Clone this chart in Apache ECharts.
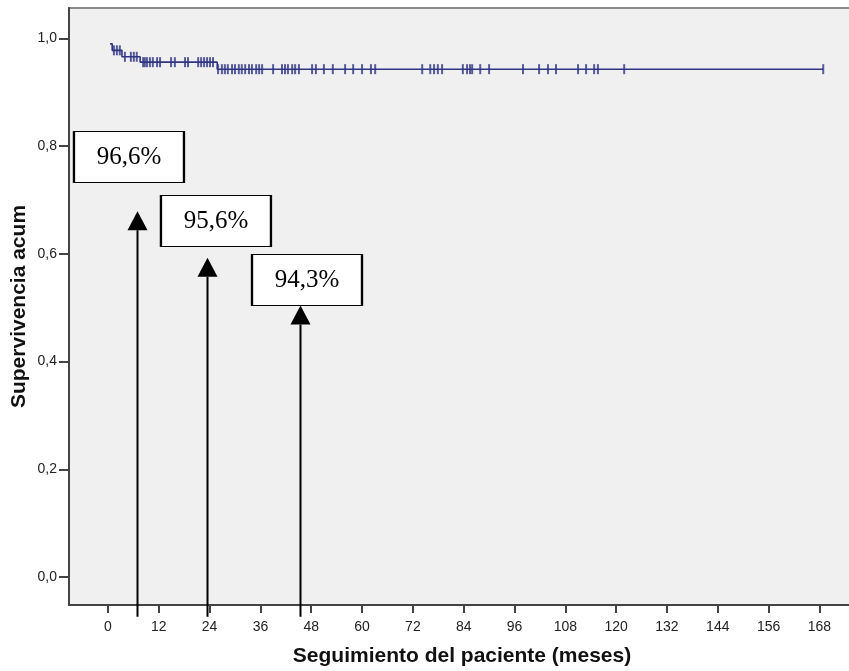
<!DOCTYPE html>
<html>
<head>
<meta charset="utf-8">
<script src="https://cdn.jsdelivr.net/npm/echarts@6/dist/echarts.min.js"></script>
<style>
  html, body { margin: 0; padding: 0; background: #ffffff; }
  #chart { width: 849px; height: 671px; }
</style>
</head>
<body>
<div id="chart"></div>
<script>
// Kaplan-Meier steps (months, cumulative survival)
var eventMonths = [0.5, 1.0, 3.3, 7.6, 25.8];
var eventSurvival = [0.990, 0.978, 0.966, 0.956, 0.943];
var lastFollowUp = 168.9;

// censored patients (months)
var censoredMonths = [
  1.4, 2.1, 2.8,
  4.0, 5.4, 6.1, 6.8,
  8.3, 8.7, 9.2, 9.9, 10.6, 11.6, 12.3, 14.9, 15.8, 18.2, 18.9,
  21.3, 22.0, 22.7, 23.4, 24.1, 24.8,
  26.0, 26.9, 27.6, 28.3, 29.3, 30.0, 30.9, 31.6, 32.4, 33.3, 34.0, 35.0, 35.7, 36.4,
  39.0, 41.1, 41.8, 42.5, 43.5, 44.2, 45.1, 48.2, 49.1, 51.0, 53.1, 56.0, 57.9, 60.0,
  62.1, 63.1, 74.2, 76.1, 77.0, 77.9, 78.9, 83.8, 84.8, 85.5, 86.0, 87.9, 90.0,
  98.0, 101.8, 103.9, 105.8, 111.0, 112.9, 114.8, 115.7, 121.9, 168.9
];

var xTicks = [0, 12, 24, 36, 48, 60, 72, 84, 96, 108, 120, 132, 144, 156, 168];
var yTicks = [0, 0.2, 0.4, 0.6, 0.8, 1.0];

// survival rates pointed at on the figure
var annotMonths = [6.85, 23.4, 45.4];
var annotLabels = ['96,6%', '95,6%', '94,3%'];

function survivalAt(t) {
  var s = 1;
  for (var i = 0; i < eventMonths.length; i++) {
    if (eventMonths[i] <= t) s = eventSurvival[i];
  }
  return s;
}

var curveData = eventMonths.map(function (m, i) { return [m, eventSurvival[i]]; });
curveData.push([lastFollowUp, eventSurvival[eventSurvival.length - 1]]);

var censorData = censoredMonths.map(function (m) { return [m, survivalAt(m)]; });

var curveColor = '#2f3582';
var axisFont = 'Liberation Sans';

// layout of the boxes and arrows (data coords)
var arrowTips = [0.679, 0.593, 0.504];
var arrowFoot = -0.074;
var boxCenters = [[4.96, 0.780], [25.5, 0.661], [47.0, 0.5515]];

var boxes = annotLabels.map(function (txt, i) {
  return {
    coord: boxCenters[i],
    value: txt,
    symbol: 'rect',
    symbolSize: [110, 51],
    itemStyle: { color: '#ffffff', borderColor: '#000000', borderWidth: 1.6 },
    label: {
      show: true,
      position: 'inside',
      formatter: txt,
      fontFamily: 'Liberation Serif',
      fontSize: 25,
      color: '#000000'
    }
  };
});

function renderArrow(params, api) {
  var tip = api.coord([api.value(0), api.value(1)]);
  var foot = api.coord([api.value(0), arrowFoot]);
  var x = Math.round(tip[0]) + 0.5;
  var headH = 19, headW = 20;
  return {
    type: 'group',
    children: [
      {
        type: 'line',
        shape: { x1: x, y1: foot[1], x2: x, y2: tip[1] + headH },
        style: { stroke: '#000', lineWidth: 2 }
      },
      {
        type: 'polygon',
        shape: { points: [[x - headW / 2, tip[1] + headH], [x + headW / 2, tip[1] + headH], [x, tip[1]]] },
        style: { fill: '#000' }
      }
    ]
  };
}

var chart = echarts.init(document.getElementById('chart'));

chart.setOption({
  animation: false,
  backgroundColor: '#ffffff',
  grid: {
    left: 69,
    top: 8,
    right: -6,
    bottom: 66,
    show: true,
    backgroundColor: '#f0f0f0',
    borderColor: '#8a8a8a',
    borderWidth: 2,
    outerBoundsMode: 'none'
  },
  xAxis: {
    type: 'value',
    min: -9.2,
    max: 176.4,
    name: 'Seguimiento del paciente (meses)',
    nameLocation: 'middle',
    nameGap: 41,
    nameTextStyle: { fontFamily: axisFont, fontWeight: 'bold', fontSize: 21, color: '#111' },
    axisLine: { show: true, onZero: false, lineStyle: { color: '#444', width: 2 } },
    axisTick: { show: true, length: 8, customValues: xTicks, lineStyle: { color: '#444', width: 2 } },
    axisLabel: { customValues: xTicks, fontFamily: axisFont, fontSize: 14, color: '#222', margin: 15 },
    splitLine: { show: false }
  },
  yAxis: {
    type: 'value',
    min: -0.052,
    max: 1.0566,
    name: 'Supervivencia acum',
    nameLocation: 'middle',
    nameGap: 39,
    nameMoveOverlap: false,
    nameTextStyle: { fontFamily: axisFont, fontWeight: 'bold', fontSize: 21, color: '#111' },
    axisLine: { show: true, onZero: false, lineStyle: { color: '#444', width: 2 } },
    axisTick: { show: true, length: 10, customValues: yTicks, lineStyle: { color: '#444', width: 2 } },
    axisLabel: {
      customValues: yTicks,
      fontFamily: axisFont,
      fontSize: 14,
      color: '#222',
      margin: 12,
      formatter: function (v) { return v.toFixed(1).replace('.', ','); }
    },
    splitLine: { show: false }
  },
  series: [
    {
      type: 'line',
      step: 'end',
      data: curveData,
      showSymbol: false,
      clip: false,
      lineStyle: { color: curveColor, width: 1.6 },
      z: 3,
      markPoint: {
        silent: true,
        data: boxes
      }
    },
    {
      type: 'scatter',
      data: censorData,
      symbol: 'rect',
      symbolSize: [2, 10],
      itemStyle: { color: curveColor },
      z: 4
    },
    {
      type: 'custom',
      clip: false,
      silent: true,
      z: 5,
      renderItem: renderArrow,
      data: annotMonths.map(function (m, i) { return [m, arrowTips[i]]; })
    }
  ]
});
</script>
</body>
</html>
